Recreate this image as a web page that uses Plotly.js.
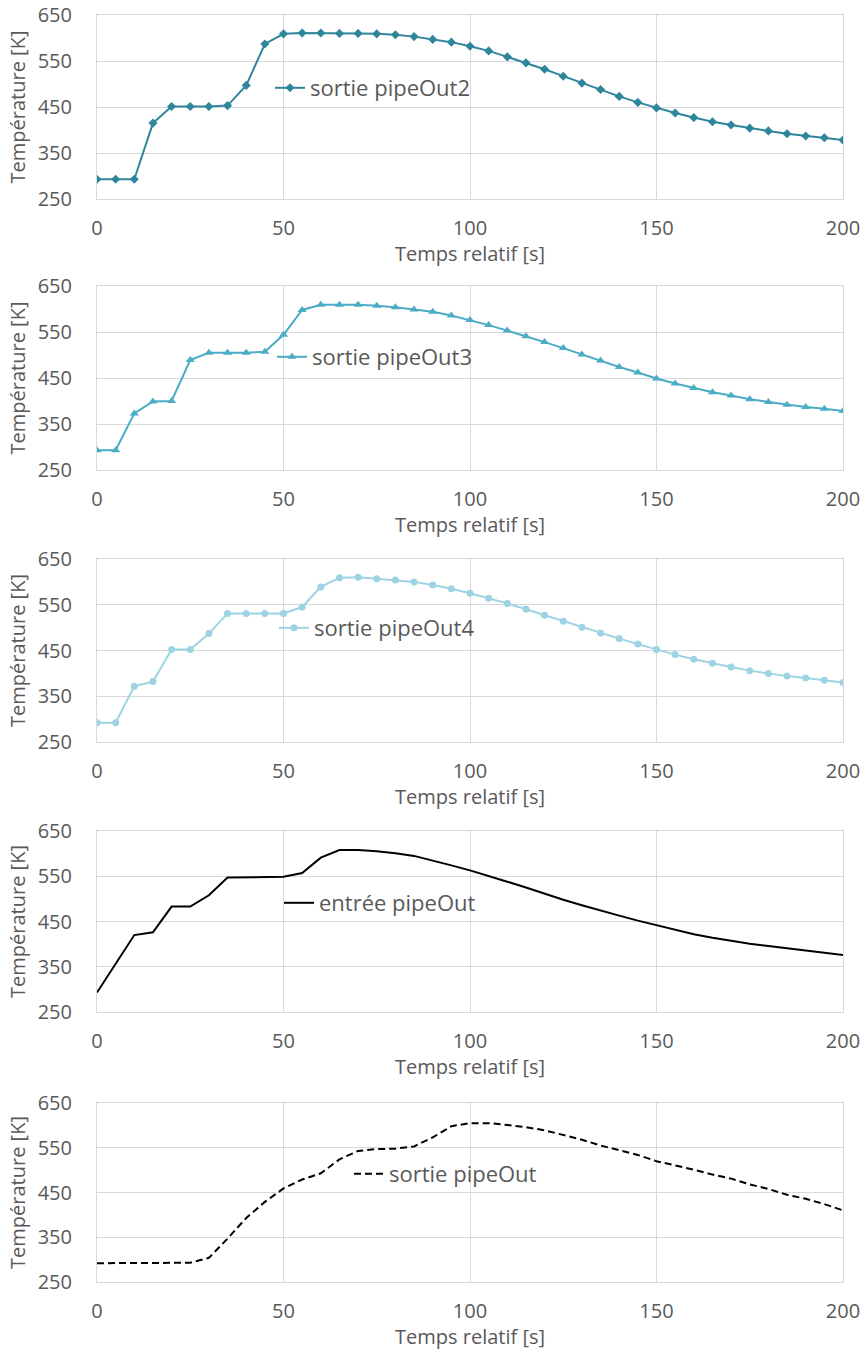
<!DOCTYPE html>
<html>
<head>
<meta charset="utf-8">
<script src="https://cdn.plot.ly/plotly-3.0.1.min.js"></script>
<style>
  html, body { margin: 0; padding: 0; background: #ffffff; }
  #chart { width: 862px; height: 1350px; }
</style>
</head>
<body>
<div id="chart"></div>
<script>
// ---- Data ----
const time = [0,5,10,15,20,25,30,35,40,45,50,55,60,65,70,75,80,85,90,95,100,
              105,110,115,120,125,130,135,140,145,150,155,160,165,170,175,180,185,190,195,200];

const sortiePipeOut2 = [293,293,293,415,451,451,451,453,497,587,609,611,611,610,610,609,607,603,597,591,582,
                        572,559,546,532,517,502,488,473,460,448,437,427,418,411,404,398,392,387,383,378];

const sortiePipeOut3 = [293,293,373,399,400,489,505,505,505,507,544,598,609,609,609,607,604,599,594,586,576,
                        565,553,541,528,515,501,488,474,462,449,438,428,419,412,404,398,392,387,383,378];

const sortiePipeOut4 = [292,292,372,382,452,452,487,531,531,531,531,545,589,609,610,607,604,600,593,585,575,
                        564,553,540,527,514,501,488,476,464,452,441,431,422,414,406,400,394,390,385,380];

const entreePipeOut = [293,357,420,426,483,483,508,547,548,548,549,557,591,608,608,605,601,595,585,574,563,
                       551,538,525,511,498,486,474,463,452,442,431,422,414,407,401,396,391,386,381,376];

const sortiePipeOut = [292,292,292,292,292,293,304,347,393,429,459,479,493,524,543,547,548,553,573,598,605,
                       605,601,596,589,578,568,555,544,534,520,511,501,490,481,468,458,445,436,424,410];

const seriesNames = ["sortie pipeOut2", "sortie pipeOut3", "sortie pipeOut4", "entrée pipeOut", "sortie pipeOut"];
const xTitle = "Temps relatif [s]";
const yTitle = "Température [K]";
const xTicks = [0, 50, 100, 150, 200];
const yTicks = [250, 350, 450, 550, 650];

// ---- Styling / layout ----
const W = 862, H = 1350;
const M = {l: 97, r: 19, t: 15, b: 68};
const FONT = "Open Sans, Liberation Sans, sans-serif";
const TXT = "#595959";
const GRID = "#d9d9d9";
// panel pixel extents (top, bottom) of the plotting areas
const panelPx = [[15,199],[286,470],[559,742],[831,1012],[1103,1282]];
// legend anchor positions (px): left x of legend item, centre y
const legendPx = [[270,88],[272,357],[274,628],[279,903],[349,1174]];

const plotH = H - M.t - M.b;
const plotW = W - M.l - M.r;
const yFrac = py => (H - M.b - py) / plotH;
const xFrac = px => (px - M.l) / plotW;

const styles = [
  {mode:"lines+markers", line:{color:"#2F869C", width:2}, marker:{symbol:"diamond", size:7, color:"#2F869C"}},
  {mode:"lines+markers", line:{color:"#4BACC6", width:2}, marker:{symbol:"triangle-up", size:8, color:"#4BACC6"}},
  {mode:"lines+markers", line:{color:"#9DD3E2", width:2}, marker:{symbol:"circle", size:7, color:"#9DD3E2"}},
  {mode:"lines", line:{color:"#000000", width:2}},
  {mode:"lines", line:{color:"#000000", width:2, dash:"7px,4px"}}
];
const values = [sortiePipeOut2, sortiePipeOut3, sortiePipeOut4, entreePipeOut, sortiePipeOut];

const traces = [];
const annotations = [];
const layout = {
  width: W, height: H,
  margin: M,
  paper_bgcolor: "#ffffff",
  plot_bgcolor: "#ffffff",
  font: {family: FONT, size: 20, color: TXT},
  showlegend: true,
  annotations: annotations
};

for (let i = 0; i < 5; i++) {
  const n = i === 0 ? "" : String(i + 1);
  const lg = i === 0 ? "legend" : "legend" + (i + 1);
  traces.push(Object.assign({
    type: "scatter",
    x: time, y: values[i],
    name: seriesNames[i],
    xaxis: "x" + n, yaxis: "y" + n,
    legend: lg,
    hoverinfo: "skip"
  }, styles[i]));

  const [top, bot] = panelPx[i];
  layout["xaxis" + n] = {
    domain: [0, 1], anchor: "y" + n,
    range: [0, 200], tickvals: xTicks,
    showgrid: true, gridcolor: GRID, gridwidth: 1,
    showline: true, linecolor: GRID, linewidth: 1, mirror: true,
    zeroline: false, ticks: "",
    ticklabelstandoff: 11,
    tickfont: {family: FONT, size: 20, color: TXT},
    automargin: false, fixedrange: true
  };
  layout["yaxis" + n] = {
    domain: [yFrac(bot), yFrac(top)], anchor: "x" + n,
    range: [250, 650], tickvals: yTicks,
    showgrid: true, gridcolor: GRID, gridwidth: 1,
    showline: true, linecolor: GRID, linewidth: 1, mirror: true,
    zeroline: false, ticks: "",
    ticklabelstandoff: 20,
    tickfont: {family: FONT, size: 20, color: TXT},
    title: {text: yTitle, font: {family: FONT, size: 20, color: TXT}, standoff: 6},
    automargin: false, fixedrange: true
  };
  // x-axis title, placed close under the tick labels as in the reference
  annotations.push({
    text: xTitle, showarrow: false,
    xref: "x" + n + " domain", yref: "y" + n + " domain",
    x: 0.5, y: 0, xanchor: "center", yanchor: "middle", yshift: -54,
    font: {family: FONT, size: 20, color: TXT}
  });
  const [lx, ly] = legendPx[i];
  layout[lg] = {
    x: xFrac(lx), y: yFrac(ly), xanchor: "left", yanchor: "middle",
    bgcolor: "rgba(0,0,0,0)", borderwidth: 0,
    font: {family: FONT, size: 22, color: TXT},
    itemwidth: 30
  };
}

Plotly.newPlot("chart", traces, layout, {staticPlot: true, displayModeBar: false});
</script>
</body>
</html>
